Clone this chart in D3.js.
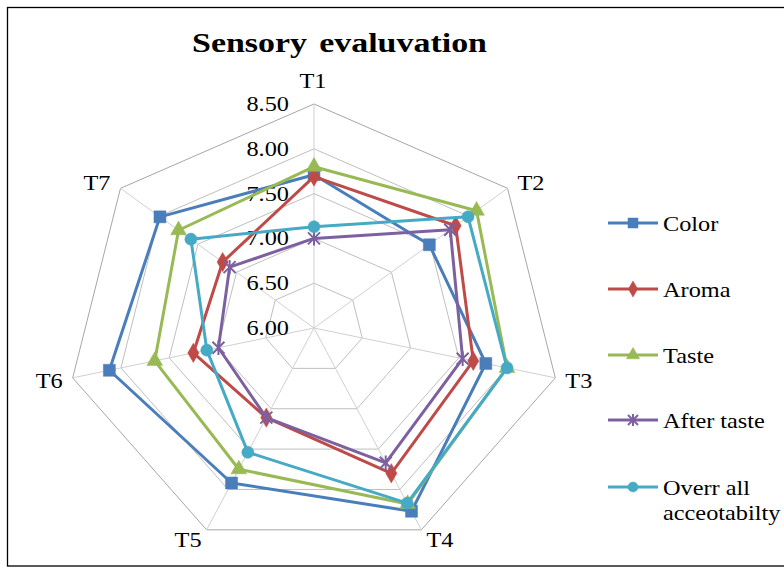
<!DOCTYPE html>
<html>
<head>
<meta charset="utf-8">
<script src="https://cdnjs.cloudflare.com/ajax/libs/d3/7.8.5/d3.min.js"></script>
<style>
  body { margin: 0; background: #fff; }
  text { font-family: "Liberation Serif", "DejaVu Serif", serif; fill: #000; }
</style>
</head>
<body>
<svg id="chart" width="784" height="569"></svg>
<script>
// data
var axes = ["T1", "T2", "T3", "T4", "T5", "T6", "T7"];
var ticks = [6.0, 6.5, 7.0, 7.5, 8.0, 8.5];
var seriesNames = ["Color", "Aroma", "Taste", "After taste", "Overr all acceotabilty"];
var color     = [7.71, 7.49, 7.78, 8.27, 7.92, 8.12, 7.99];
var aroma     = [7.69, 7.83, 7.65, 7.80, 7.11, 7.25, 7.18];
var taste     = [7.80, 8.10, 8.00, 8.18, 7.75, 7.65, 7.75];
var afterTaste = [7.00, 7.76, 7.54, 7.67, 7.11, 6.99, 7.09];
var overall   = [7.13, 7.99, 8.00, 8.17, 7.54, 7.11, 7.59];

var seriesValues = [color, aroma, taste, afterTaste, overall];
var seriesColors = ["#4A7EBB", "#BE4B48", "#98B954", "#7D60A0", "#46AAC5"];
var markerTypes = ["square", "diamond", "triangle", "star", "circle"];

var svg = d3.select("#chart");
var cx = 314, cy = 328, R = 224, sx = 1.105;   // picture is a bit wider than tall

var r = d3.scaleLinear().domain([6, 8.5]).range([0, R]);
var angle = d3.scaleLinear().domain([0, axes.length]).range([-Math.PI / 2, 1.5 * Math.PI]);

function pt(i, v) {
  var a = angle(i);
  return [cx + sx * r(v) * Math.cos(a), cy + r(v) * Math.sin(a)];
}

// place a text at x,y and widen it like the rest of the picture
function place(sel, fx, fy) {
  sel.attr("transform", (d, i) => "translate(" + fx(d, i) + "," + fy(d, i) + ") scale(" + sx + ",1)");
}

// chart border
svg.append("rect")
  .attr("x", 7.5).attr("y", 7.5).attr("width", 790).attr("height", 558.5)
  .attr("fill", "none").attr("stroke", "#000").attr("stroke-width", 1.3);

// grid rings
var ring = d3.line().curve(d3.curveLinearClosed);
svg.append("g").selectAll("path")
  .data(ticks.slice(1))
  .join("path")
  .attr("d", t => ring(axes.map((a, i) => pt(i, t))))
  .attr("fill", "none")
  .attr("stroke", (t, i) => i == ticks.length - 2 ? "#A6A6A6" : "#BFBFBF")
  .attr("stroke-width", 1);

// spokes
svg.append("g").selectAll("line")
  .data(axes)
  .join("line")
  .attr("x1", cx).attr("y1", cy)
  .attr("x2", (d, i) => pt(i, 8.5)[0])
  .attr("y2", (d, i) => pt(i, 8.5)[1])
  .attr("stroke", "#D0D0D0").attr("stroke-width", 1);

// tick labels
svg.append("g").selectAll("text")
  .data(ticks)
  .join("text")
  .attr("text-anchor", "end")
  .style("font-size", "22px")
  .text(t => d3.format(".2f")(t))
  .call(place, () => cx - 25, t => cy - r(t) + 7);

// axis labels
var labelOffsets = [[-1, -16], [10, 2], [10, 10], [5, 17], [-5, 17], [-10, 10], [-10, 2]];
svg.append("g").selectAll("text")
  .data(axes)
  .join("text")
  .attr("text-anchor", (d, i) => i == 0 ? "middle" : (i < 4 ? "start" : "end"))
  .style("font-size", "22px")
  .text(d => d)
  .call(place, (d, i) => pt(i, 8.5)[0] + labelOffsets[i][0],
               (d, i) => pt(i, 8.5)[1] + labelOffsets[i][1]);

function markerPath(type, size) {
  if (type == "star") {
    var h = size / 2;
    return "M" + (-h) + "," + (-h) + "L" + h + "," + h +
           "M" + (-h) + "," + h + "L" + h + "," + (-h) +
           "M0," + (-h * 1.2) + "L0," + (h * 1.2);
  }
  var sym = { square: d3.symbolSquare, diamond: d3.symbolDiamond,
              triangle: d3.symbolTriangle, circle: d3.symbolCircle }[type];
  var area = { square: size * size, diamond: size * size * 0.75,
               triangle: size * size * 0.75, circle: size * size * 0.8 }[type];
  return d3.symbol().type(sym).size(area)();
}

// series
var seriesG = svg.append("g").selectAll("g")
  .data(seriesValues)
  .join("g");

seriesG.append("path")
  .attr("d", vals => ring(vals.map((v, i) => pt(i, v))))
  .attr("fill", "none")
  .attr("stroke", (v, k) => seriesColors[k])
  .attr("stroke-width", 3)
  .attr("stroke-linejoin", "round");

seriesG.each(function (vals, k) {
  d3.select(this).selectAll(".mk")
    .data(vals)
    .join("path")
    .attr("class", "mk")
    .attr("transform", (v, i) => "translate(" + pt(i, v) + ")")
    .attr("d", markerPath(markerTypes[k], 12))
    .attr("fill", seriesColors[k])
    .attr("stroke", seriesColors[k])
    .attr("stroke-width", markerTypes[k] == "star" ? 2 : 0.5);
});

// title
svg.append("text")
  .attr("x", 192).attr("y", 52)
  .attr("textLength", 295)
  .attr("lengthAdjust", "spacingAndGlyphs")
  .style("font-size", "28px").style("font-weight", "bold")
  .style("word-spacing", "3px")
  .text("Sensory evaluvation");

// legend
var legendY = [223, 289, 355, 420, 487];
var legend = svg.append("g").selectAll("g")
  .data(seriesNames)
  .join("g")
  .attr("transform", (d, k) => "translate(608," + legendY[k] + ")");

legend.append("line")
  .attr("x1", 0).attr("x2", 50)
  .attr("stroke", (d, k) => seriesColors[k]).attr("stroke-width", 3);

legend.append("path")
  .attr("transform", "translate(25,0)")
  .attr("d", (d, k) => markerPath(markerTypes[k], 10))
  .attr("fill", (d, k) => seriesColors[k])
  .attr("stroke", (d, k) => seriesColors[k])
  .attr("stroke-width", (d, k) => markerTypes[k] == "star" ? 2 : 0.5);

legend.append("text")
  .attr("transform", "translate(55,8) scale(" + sx + ",1)")
  .style("font-size", "22px")
  .each(function (d) {
    var words = d == "Overr all acceotabilty" ? ["Overr all", "acceotabilty"] : [d];
    d3.select(this).selectAll("tspan")
      .data(words)
      .join("tspan")
      .attr("x", 0)
      .attr("dy", (w, j) => j == 0 ? 0 : 25)
      .text(w => w);
  });
</script>
</body>
</html>
